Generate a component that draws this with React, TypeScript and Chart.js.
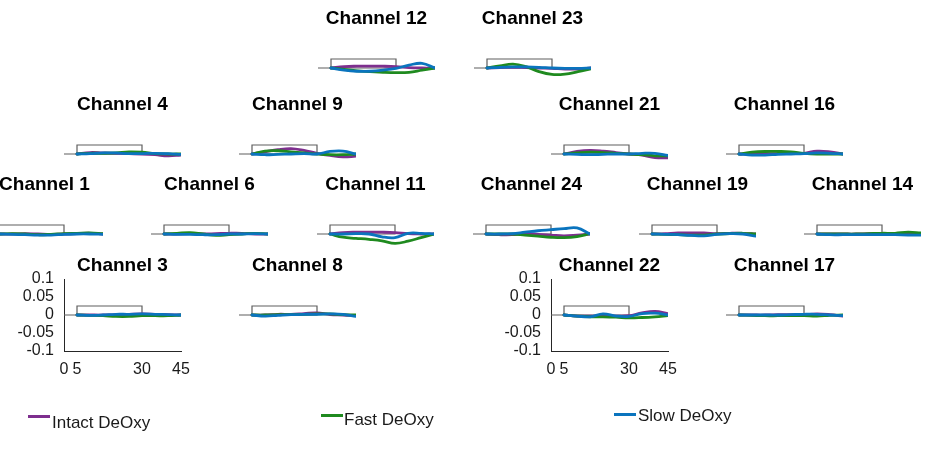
import React, { useEffect, useRef } from "react";
import { Chart, registerables } from "chart.js";

Chart.register(...registerables);

// ---------- data ----------
const timePoints = [5, 10, 15, 20, 25, 30, 35, 40, 45];
const stimX = [0, 5, 5, 30, 30, 5];
const stimY = [0, 0, 0.025, 0.025, 0, 0];
const xTicks = [0, 5, 30, 45];
const yTicks = [-0.1, -0.05, 0, 0.05, 0.1];
const seriesNames = ["Intact DeOxy", "Fast DeOxy", "Slow DeOxy"];
const seriesColors = ["#7E2F8E", "#1F8A1F", "#0A74BE"];

const ch12Intact = [0, 0.004, 0.005, 0.005, 0.005, 0.004, 0.001, 0.0, 0];
const ch12Fast = [0, -0.004, -0.008, -0.01, -0.012, -0.013, -0.012, -0.006, 0];
const ch12Slow = [0, -0.006, -0.009, -0.009, -0.006, -0.001, 0.008, 0.013, 0];

const ch23Intact = [0, 0.001, 0.002, 0.001, 0.0, -0.001, -0.003, -0.003, 0];
const ch23Fast = [0, 0.006, 0.011, 0.004, -0.01, -0.018, -0.017, -0.01, -0.002];
const ch23Slow = [0, 0.002, 0.003, 0.003, 0.002, 0.0, -0.001, -0.001, 0];

const ch4Intact = [0, 0.004, 0.003, 0.002, 0.001, 0.0, -0.002, -0.005, -0.003];
const ch4Fast = [0, 0.002, 0.002, 0.003, 0.006, 0.005, 0.001, 0.0, 0];
const ch4Slow = [0, 0.001, 0.003, 0.003, 0.001, 0.001, 0.002, 0.001, -0.001];

const ch9Intact = [0, 0.006, 0.012, 0.015, 0.01, 0.002, -0.004, -0.008, -0.006];
const ch9Fast = [0, 0.008, 0.009, 0.006, 0.003, 0.0, -0.002, -0.002, 0];
const ch9Slow = [0, -0.002, -0.001, 0.0, 0.001, 0.0, 0.007, 0.008, 0];

const ch21Intact = [0, 0.007, 0.01, 0.008, 0.004, 0.0, -0.003, -0.01, -0.011];
const ch21Fast = [0, 0.003, 0.005, 0.004, 0.002, 0.0, -0.002, -0.005, -0.005];
const ch21Slow = [0, -0.001, -0.002, -0.001, 0.0, 0.0, 0.002, 0.002, -0.004];

const ch16Intact = [0, 0.0, 0.001, 0.001, 0.001, 0.002, 0.008, 0.006, 0];
const ch16Fast = [0, 0.005, 0.007, 0.007, 0.006, 0.002, 0.0, 0.0, 0];
const ch16Slow = [0, -0.003, -0.003, -0.001, 0.0, 0.001, 0.003, 0.002, 0];

const ch1Intact = [0, 0.0, 0.001, 0.0, -0.001, 0.0, 0.001, 0.002, 0];
const ch1Fast = [0, 0.001, 0.0, -0.002, -0.001, 0.001, 0.002, 0.003, 0.001];
const ch1Slow = [0, -0.001, -0.002, -0.003, -0.003, -0.001, 0.0, 0.0, -0.001];

const ch6Intact = [0, 0.0, 0.001, 0.0, 0.001, 0.002, 0.002, 0.0, 0];
const ch6Fast = [0, 0.002, 0.004, 0.0, -0.004, -0.002, 0.0, 0.002, 0];
const ch6Slow = [0, -0.001, -0.001, -0.002, -0.002, 0.0, 0.0, 0.001, 0];

const ch11Intact = [0, 0.004, 0.005, 0.005, 0.005, 0.004, 0.001, 0.0, 0];
const ch11Fast = [0, -0.009, -0.012, -0.015, -0.019, -0.026, -0.02, -0.01, 0];
const ch11Slow = [0, 0.0, 0.001, 0.0, -0.008, -0.01, 0.002, 0.002, 0];

const ch24Intact = [0, -0.002, -0.002, 0.002, -0.001, -0.003, -0.005, -0.003, 0];
const ch24Fast = [0, 0.0, 0.0, -0.003, -0.006, -0.009, -0.01, -0.007, 0.001];
const ch24Slow = [0, 0.0, 0.001, 0.005, 0.009, 0.012, 0.015, 0.017, 0];

const ch19Intact = [0, 0.001, 0.003, 0.003, 0.003, 0.001, 0.002, 0.002, 0];
const ch19Fast = [0, -0.001, -0.002, -0.003, -0.003, 0.0, 0.001, 0.002, 0];
const ch19Slow = [0, -0.001, -0.002, -0.004, -0.005, -0.001, 0.001, 0.0, -0.006];

const ch14Intact = [0, 0.0, 0.0, 0.0, 0.001, 0.001, 0.001, 0.001, 0];
const ch14Fast = [0, 0.0, 0.0, 0.0, 0.001, 0.002, 0.002, 0.005, 0.003];
const ch14Slow = [0, -0.002, -0.002, -0.002, -0.002, -0.002, -0.002, -0.003, -0.003];

const ch3Intact = [0, 0.0, 0.0, 0.001, 0.002, 0.003, 0.002, 0.001, 0];
const ch3Fast = [0, -0.001, -0.002, -0.004, -0.004, -0.002, -0.002, -0.002, 0];
const ch3Slow = [0, -0.001, 0.0, 0.002, 0.002, 0.003, 0.002, 0.001, 0];

const ch8Intact = [0, 0.0, 0.002, 0.002, 0.004, 0.006, 0.001, 0.0, -0.002];
const ch8Fast = [0, 0.0, 0.001, 0.001, 0.002, 0.003, 0.003, 0.001, 0];
const ch8Slow = [0, -0.003, -0.001, 0.001, 0.002, 0.002, 0.003, 0.002, -0.004];

const ch22Intact = [0, -0.003, -0.003, -0.003, -0.003, -0.002, 0.006, 0.01, 0.004];
const ch22Fast = [0, -0.003, -0.005, -0.005, -0.006, -0.008, -0.007, -0.005, -0.002];
const ch22Slow = [0, -0.003, -0.005, 0.003, -0.003, -0.004, 0.004, 0.005, 0];

const ch17Intact = [0, 0.0, 0.0, 0.001, 0.001, 0.001, 0.003, 0.001, -0.003];
const ch17Fast = [0, -0.001, -0.002, -0.002, -0.002, -0.002, -0.003, -0.001, 0];
const ch17Slow = [0, 0.0, 0.0, 0.0, 0.001, 0.002, 0.002, 0.0, -0.002];

// ---------- layout ----------
type ChannelCfg = {
  title: string;
  series: number[][];
  left: number; // page x of time 0
  zero: number; // page y of value 0
  axes: boolean;
};

const channels: ChannelCfg[] = [
  { title: "Channel 12", series: [ch12Intact, ch12Fast, ch12Slow], left: 318, zero: 68, axes: false },
  { title: "Channel 23", series: [ch23Intact, ch23Fast, ch23Slow], left: 474, zero: 68, axes: false },
  { title: "Channel 4", series: [ch4Intact, ch4Fast, ch4Slow], left: 64, zero: 154, axes: false },
  { title: "Channel 9", series: [ch9Intact, ch9Fast, ch9Slow], left: 239, zero: 154, axes: false },
  { title: "Channel 21", series: [ch21Intact, ch21Fast, ch21Slow], left: 551, zero: 154, axes: false },
  { title: "Channel 16", series: [ch16Intact, ch16Fast, ch16Slow], left: 726, zero: 154, axes: false },
  { title: "Channel 1", series: [ch1Intact, ch1Fast, ch1Slow], left: -14, zero: 234, axes: false },
  { title: "Channel 6", series: [ch6Intact, ch6Fast, ch6Slow], left: 151, zero: 234, axes: false },
  { title: "Channel 11", series: [ch11Intact, ch11Fast, ch11Slow], left: 317, zero: 234, axes: false },
  { title: "Channel 24", series: [ch24Intact, ch24Fast, ch24Slow], left: 473, zero: 234, axes: false },
  { title: "Channel 19", series: [ch19Intact, ch19Fast, ch19Slow], left: 639, zero: 234, axes: false },
  { title: "Channel 14", series: [ch14Intact, ch14Fast, ch14Slow], left: 804, zero: 234, axes: false },
  { title: "Channel 3", series: [ch3Intact, ch3Fast, ch3Slow], left: 64, zero: 315, axes: true },
  { title: "Channel 8", series: [ch8Intact, ch8Fast, ch8Slow], left: 239, zero: 315, axes: false },
  { title: "Channel 22", series: [ch22Intact, ch22Fast, ch22Slow], left: 551, zero: 315, axes: true },
  { title: "Channel 17", series: [ch17Intact, ch17Fast, ch17Slow], left: 726, zero: 315, axes: false },
];

const AX_W = 117; // width of 0..45
const AX_H = 72; // height of -0.1..0.1
const PAD_L = 64;
const PAD_R = 24;
const TITLE_H = 31;
const PAD_B = 32;
const FONT = "'Liberation Sans', Helvetica, Arial, sans-serif";

function SubPlot({ cfg }: { cfg: ChannelCfg }) {
  const ref = useRef<HTMLCanvasElement | null>(null);
  useEffect(() => {
    if (!ref.current) return;
    const datasets: any[] = cfg.series.map((vals, i) => ({
      label: seriesNames[i],
      data: timePoints.map((t, k) => ({ x: t, y: vals[k] })),
      borderColor: seriesColors[i],
      borderWidth: 2.8,
      pointRadius: 0,
      tension: 0.4,
      borderCapStyle: "round",
      borderJoinStyle: "round",
      fill: false,
      order: 3 - i,
    }));
    datasets.push({
      label: "stimulus",
      data: stimX.map((x, k) => ({ x, y: stimY[k] })),
      borderColor: "#5E5E5E",
      borderWidth: 1.2,
      pointRadius: 0,
      tension: 0,
      fill: false,
      order: 10,
    });
    const tickFont = { family: FONT, size: 16 };
    const chart = new Chart(ref.current, {
      type: "line",
      data: { datasets },
      options: {
        animation: false,
        responsive: false,
        devicePixelRatio: 1,
        events: [],
        layout: { padding: { left: 0, right: PAD_R, top: 0, bottom: 0 } },
        plugins: {
          legend: { display: false },
          tooltip: { enabled: false },
          title: {
            display: true,
            text: cfg.title,
            fullSize: false,
            color: "#000",
            font: { family: FONT, size: 19, weight: "bold", lineHeight: 1 },
            padding: { top: 8, bottom: 4 },
          },
        },
        scales: {
          x: {
            type: "linear",
            min: 0,
            max: 45,
            display: true,
            grid: { display: false, drawTicks: false },
            border: { display: cfg.axes, color: "#262626", width: 1 },
            afterBuildTicks: (s: any) => {
              s.ticks = xTicks.map((v) => ({ value: v }));
            },
            afterFit: (s: any) => {
              s.height = PAD_B;
              s.paddingLeft = 0;
              s.paddingRight = 0;
            },
            ticks: {
              display: cfg.axes,
              autoSkip: false,
              maxRotation: 0,
              minRotation: 0,
              padding: 9,
              color: "#1a1a1a",
              font: tickFont,
              callback: (v: any) => String(v),
            },
          },
          y: {
            type: "linear",
            min: -0.1,
            max: 0.1,
            display: true,
            grid: { display: false, drawTicks: false },
            border: { display: cfg.axes, color: "#262626", width: 1 },
            afterBuildTicks: (s: any) => {
              s.ticks = yTicks.map((v) => ({ value: v }));
            },
            afterFit: (s: any) => {
              s.width = PAD_L;
              s.paddingTop = 0;
              s.paddingBottom = 0;
            },
            ticks: {
              display: cfg.axes,
              autoSkip: false,
              padding: 10,
              color: "#1a1a1a",
              font: tickFont,
              callback: (v: any) => String(Math.round(Number(v) * 100) / 100),
            },
          },
        },
      } as any,
    });
    return () => chart.destroy();
  }, [cfg]);

  const w = PAD_L + AX_W + PAD_R;
  const h = TITLE_H + AX_H + PAD_B;
  return (
    <canvas
      ref={ref}
      width={w}
      height={h}
      style={{
        position: "absolute",
        left: cfg.left - PAD_L,
        top: cfg.zero - AX_H / 2 - TITLE_H,
        width: w,
        height: h,
      }}
    />
  );
}

const legendItems = [
  { lineX: 28, lineY: 416, textX: 52, textY: 423 },
  { lineX: 321, lineY: 415, textX: 344, textY: 420 },
  { lineX: 614, lineY: 414, textX: 638, textY: 416 },
];

export default function App() {
  return (
    <div
      style={{
        position: "absolute",
        left: 0,
        top: 0,
        width: 930,
        height: 457,
        overflow: "hidden",
        background: "#fff",
      }}
    >
      {channels.map((c) => (
        <SubPlot key={c.title} cfg={c} />
      ))}
      {legendItems.map((it, i) => (
        <React.Fragment key={seriesNames[i]}>
          <div
            style={{
              position: "absolute",
              left: it.lineX,
              top: it.lineY - 1.5,
              width: 22,
              height: 3,
              background: seriesColors[i],
            }}
          />
          <div
            style={{
              position: "absolute",
              left: it.textX,
              top: it.textY - 10,
              height: 20,
              lineHeight: "20px",
              fontFamily: FONT,
              fontSize: 17,
              color: "#1a1a1a",
              whiteSpace: "nowrap",
            }}
          >
            {seriesNames[i]}
          </div>
        </React.Fragment>
      ))}
    </div>
  );
}
